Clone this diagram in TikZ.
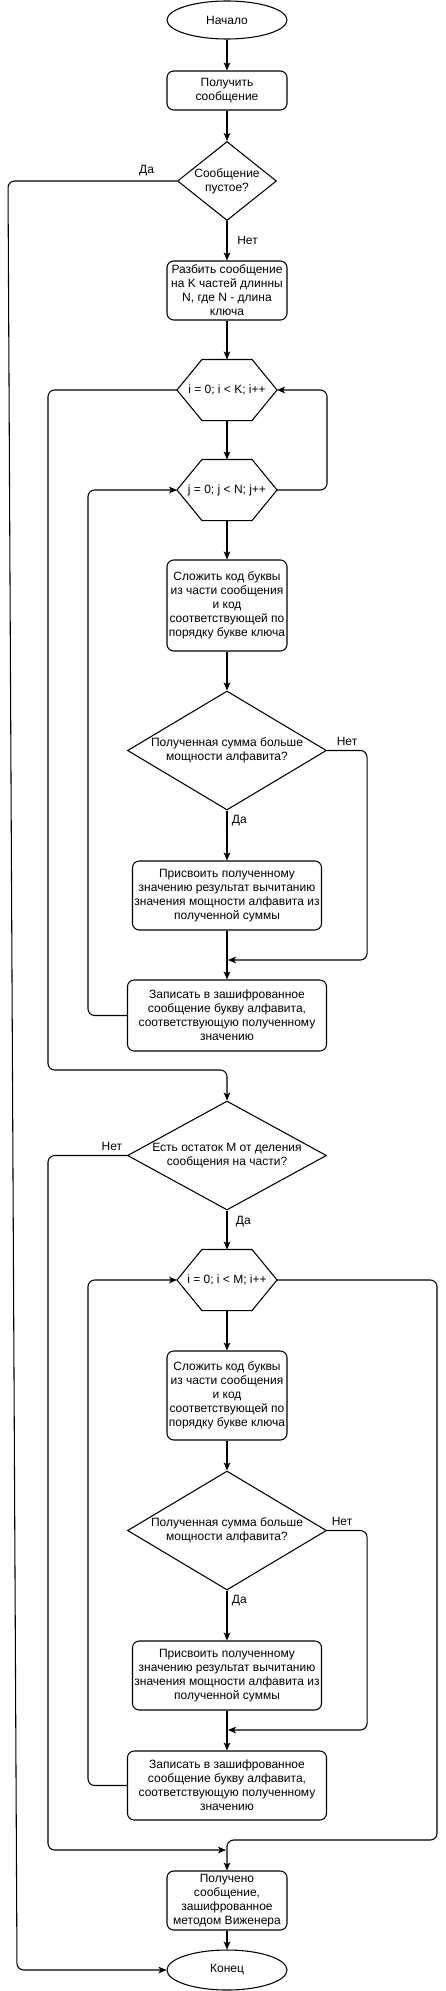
\documentclass[tikz,border=0pt]{standalone}
\usepackage{fontspec}
\setmainfont{Liberation Sans}
\usetikzlibrary{arrows.meta, shapes.geometric, calc}

\tikzstyle{startstop} = [ellipse, minimum width=90pt, minimum height=28.5pt, inner sep=0pt, draw=black]
\tikzstyle{process} = [rectangle, rounded corners=5pt, minimum width=90pt, inner sep=0pt, align=center, draw=black]
\tikzstyle{decision} = [diamond, inner sep=-6pt, align=center, draw=black]
\tikzstyle{loopbox} = [rectangle, minimum width=74.25pt, minimum height=45pt, inner sep=0pt]
\tikzstyle{arrow} = [->, >={Stealth[length=6pt, width=5pt, inset=1.5pt]}, rounded corners=5pt]

\newcommand{\drawloop}[1]{\draw (#1.west) -- ([xshift=18.75pt]#1.north west) -- ([xshift=-18.75pt]#1.north east) -- (#1.east) -- ([xshift=-18.75pt]#1.south east) -- ([xshift=18.75pt]#1.south west) -- cycle;}

\begin{document}
\begin{tikzpicture}[
            x=0.75pt, y=-0.75pt, line width=0.8pt,
            every node/.style={font=\fontsize{9pt}{10.5pt}\selectfont}
        ]
            \useasboundingbox (0,0) rectangle (446,1991);

            % Nodes
            \node (start) [startstop] at (227,20) {Начало};
            \node (get) [process, minimum height=29.25pt] at (227,90.5) {Получить\\сообщение};
            \node (empty) [decision, aspect=1.25, minimum width=74.25pt, minimum height=59.25pt] at (227,181) {Сообщение\\пустое?};
            \node (split) [process, minimum height=44.25pt] at (227,290.5) {Разбить сообщение\\на K частей длинны\\N, где N - длина\\ключа};
            \node (loopi) [loopbox] at (227,390) {i = 0; i < K; i++};
            \node (loopj) [loopbox] at (227,490) {j = 0; j < N; j++};
            \node (add1) [process, minimum height=68.25pt] at (227,605.5) {Сложить код буквы\\из части сообщения\\и код\\соответствующей по\\порядку букве ключа};
            \node (cmp1) [decision, aspect=1.67, minimum width=149.25pt, minimum height=89.25pt] at (227,750.5) {Полученная сумма больше\\мощности алфавита?};
            \node (sub1) [process, minimum width=141.75pt, minimum height=51.75pt] at (227,895.5) {Присвоить полученному\\значению результат вычитанию\\значения мощности алфавита из\\полученной суммы};
            \node (write1) [process, minimum width=149.25pt, minimum height=53.25pt] at (227,1015.5) {Записать в зашифрованное\\сообщение букву алфавита,\\соответствующую полученному\\значению};
            \node (rem) [decision, aspect=1.83, minimum width=149.25pt, minimum height=81.75pt] at (227,1155.5) {Есть остаток M от деления\\сообщения на части?};
            \node (loopm) [loopbox] at (227,1280) {i = 0; i < M; i++};
            \node (add2) [process, minimum height=66.75pt] at (227,1395.5) {Сложить код буквы\\из части сообщения\\и код\\соответствующей по\\порядку букве ключа};
            \node (cmp2) [decision, aspect=1.67, minimum width=149.25pt, minimum height=89.25pt] at (227,1530.5) {Полученная сумма больше\\мощности алфавита?};
            \node (sub2) [process, minimum width=141.75pt, minimum height=51.75pt] at (227,1675.5) {Присвоить полученному\\значению результат вычитанию\\значения мощности алфавита из\\полученной суммы};
            \node (write2) [process, minimum width=149.25pt, minimum height=51.75pt] at (227,1785.5) {Записать в зашифрованное\\сообщение букву алфавита,\\соответствующую полученному\\значению};
            \node (result) [process, minimum height=44.25pt] at (227,1900.5) {Получено\\сообщение,\\зашифрованное\\методом Виженера};
            \node (stop) [startstop, minimum height=30pt] at (227,1970) {Конец};

            \drawloop{loopi}
            \drawloop{loopj}
            \drawloop{loopm}

            % Rails and joins
            \coordinate (railA) at (8,0);
            \coordinate (railB) at (17,0);
            \coordinate (railI) at (48,0);
            \coordinate (railJ) at (88,0);
            \coordinate (railK) at (327,0);
            \coordinate (railR) at (437,0);
            \coordinate (join1) at (228,960);
            \coordinate (join2) at (228,1730);
            \coordinate (join3) at (226,1850);
            \coordinate (exit1) at (227,1070);
            \coordinate (exit2) at (227,1840);

            % Arrows
            \draw [arrow] (start) -- (get);
            \draw [arrow] (get) -- (empty);
            \draw [arrow] (empty) -- node[right, xshift=4pt] {Нет} (split);
            \draw [arrow] (empty.west) -- node[above, pos=0.18] {Да} (empty.west -| railA) -- (stop.west -| railB) -- (stop.west);
            \draw [arrow] (split) -- (loopi);
            \draw [arrow] (loopi) -- (loopj);
            \draw [arrow] (loopj) -- (add1);
            \draw [arrow] (add1) -- (cmp1);
            \draw [arrow] (cmp1) -- node[right, pos=0.2] {Да} (sub1);
            \draw [arrow] (sub1) -- (write1);
            \draw [arrow] (cmp1.east) -- node[above] {Нет} ++(40,0) |- (join1);
            \draw [arrow] (write1.west) -- (write1.west -| railJ) -- (loopj.west -| railJ) -- (loopj.west);
            \draw [arrow] (loopj.east) -- (loopj.east -| railK) -- (loopi.east -| railK) -- (loopi.east);
            \draw [arrow] (loopi.west) -- (loopi.west -| railI) -- (railI |- exit1) -- (exit1) -- (rem.north);
            \draw [arrow] (rem.west) -- node[above, pos=0.19] {Нет} (rem.west -| railI) -- (railI |- join3) -- (join3);
            \draw [arrow] (rem) -- node[right, xshift=3pt, pos=0.28] {Да} (loopm);
            \draw [arrow] (loopm) -- (add2);
            \draw [arrow] (add2) -- (cmp2);
            \draw [arrow] (cmp2) -- node[right, pos=0.2] {Да} (sub2);
            \draw [arrow] (sub2) -- (write2);
            \draw [arrow] (cmp2.east) -- node[above, pos=0.375] {Нет} ++(40,0) |- (join2);
            \draw [arrow] (write2.west) -- (write2.west -| railJ) -- (loopm.west -| railJ) -- (loopm.west);
            \draw [arrow] (loopm.east) -- (loopm.east -| railR) -- (railR |- exit2) -- (exit2) -- (result.north);
            \draw [arrow] (result) -- (stop);
        \end{tikzpicture}
\end{document}
